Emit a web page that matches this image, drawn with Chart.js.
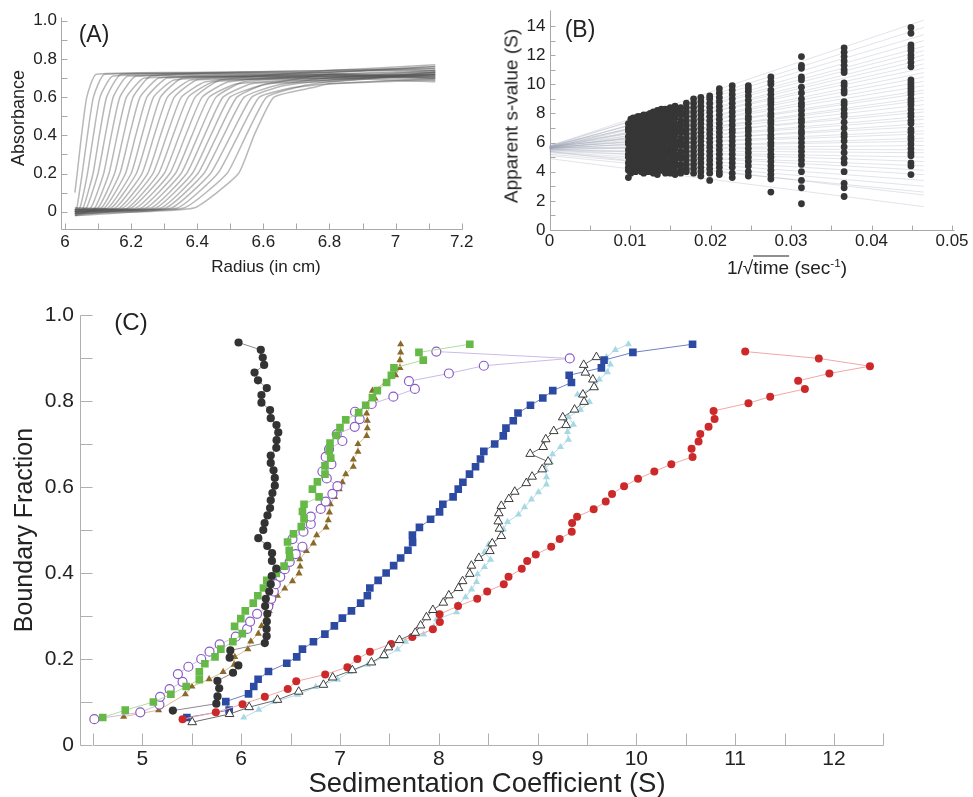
<!DOCTYPE html>
<html>
<head>
<meta charset="utf-8">
<script src="https://cdn.jsdelivr.net/npm/chart.js@4/dist/chart.umd.min.js"></script>
<style>
html, body { margin: 0; padding: 0; background: #fff; }
#page { position: relative; width: 973px; height: 797px; overflow: hidden; background: #fff;
        font-family: 'Liberation Sans', Arial, sans-serif; color: #222; }
#page canvas { position: absolute; }
.lbl { position: absolute; white-space: nowrap; line-height: 1; transform: translate(-50%, -50%); }
.rot { transform: translate(-50%, -50%) rotate(-90deg); }
sup { font-size: 0.62em; vertical-align: 0.55em; line-height: 0; }
</style>
</head>
<body>
<div id="page">
  <canvas id="chartA" width="480" height="260" style="left:0px;top:0px"></canvas>
  <canvas id="chartB" width="483" height="280" style="left:490px;top:0px"></canvas>
  <canvas id="chartC" width="973" height="507" style="left:0px;top:290px"></canvas>

  <div class="lbl" style="left:94px;top:34px;font-size:23px">(A)</div>
  <div class="lbl rot" style="left:18px;top:118px;font-size:18px">Absorbance</div>
  <div class="lbl" style="left:266px;top:266px;font-size:17px">Radius (in cm)</div>

  <div class="lbl" style="left:580px;top:29px;font-size:23px">(B)</div>
  <div class="lbl rot" style="left:511px;top:116px;font-size:19px">Apparent s-value (S)</div>
  <div class="lbl" style="left:787px;top:267px;font-size:19px">1/√<span style="text-decoration:overline">time</span> (sec<sup>-1</sup>)</div>

  <div class="lbl" style="left:131px;top:322px;font-size:24px">(C)</div>
  <div class="lbl rot" style="left:23px;top:530px;font-size:25px">Boundary Fraction</div>
  <div class="lbl" style="left:487px;top:783px;font-size:27.5px">Sedimentation Coefficient (S)</div>
</div>

<script>
// ---------------- Panel A: absorbance scans (radius in cm) ----------------
// For every scan: radius where the boundary leaves the baseline, the radius at
// absorbance 0.2 / 0.4 / 0.6, the shoulder (radius, absorbance), and the
// plateau absorbance at 6.8 cm and at the end of the cell (7.12 cm).
const scanStartAbs = [0.10,0.00,0.01,-0.01,0.00,0.01,-0.02,0.00,0.01,-0.01,0.00,0.02,-0.01,0.00,0.01,-0.02,0.00,0.01,-0.01,0.00,0.02,-0.01,0.01,0.00,-0.02,0.01,0.00,-0.01];
const scanFoot   = [6.030,6.036,6.045,6.055,6.065,6.078,6.090,6.100,6.110,6.120,6.130,6.140,6.152,6.165,6.176,6.190,6.200,6.215,6.230,6.245,6.260,6.275,6.290,6.305,6.322,6.340,6.360,6.390];
const scanAt20   = [6.037,6.052,6.068,6.085,6.100,6.117,6.133,6.150,6.166,6.183,6.200,6.216,6.233,6.250,6.266,6.283,6.300,6.317,6.334,6.351,6.368,6.385,6.402,6.420,6.440,6.462,6.490,6.525];
const scanAt40   = [6.050,6.068,6.086,6.104,6.122,6.140,6.158,6.177,6.195,6.214,6.233,6.252,6.270,6.289,6.308,6.327,6.346,6.365,6.384,6.403,6.422,6.441,6.460,6.480,6.502,6.524,6.548,6.572];
const scanAt60   = [6.066,6.086,6.106,6.126,6.146,6.166,6.186,6.206,6.227,6.248,6.268,6.289,6.310,6.331,6.352,6.373,6.394,6.415,6.436,6.457,6.478,6.499,6.520,6.542,6.565,6.588,6.610,6.632];
const scanShoulder    = [6.095,6.120,6.145,6.170,6.190,6.215,6.240,6.260,6.285,6.310,6.330,6.355,6.380,6.400,6.425,6.450,6.470,6.495,6.520,6.540,6.565,6.590,6.610,6.635,6.660,6.690,6.720,6.750];
const scanShoulderAbs = [0.72,0.72,0.71,0.72,0.71,0.71,0.70,0.71,0.70,0.70,0.69,0.70,0.69,0.69,0.68,0.68,0.69,0.68,0.67,0.68,0.67,0.66,0.67,0.66,0.66,0.65,0.66,0.65];
const scanAbs68  = [0.73,0.71,0.74,0.72,0.70,0.73,0.71,0.74,0.72,0.70,0.73,0.71,0.72,0.70,0.74,0.71,0.69,0.72,0.70,0.71,0.69,0.72,0.68,0.70,0.69,0.67,0.68,0.67];
const scanAbsEnd = [0.75,0.72,0.77,0.73,0.71,0.76,0.72,0.74,0.70,0.73,0.76,0.71,0.74,0.72,0.75,0.70,0.73,0.71,0.74,0.69,0.72,0.70,0.73,0.68,0.71,0.69,0.72,0.70];

const aXTicks  = [6,6.1,6.2,6.3,6.4,6.5,6.6,6.7,6.8,6.9,7,7.1,7.2];
const aXLabels = ['6','','6.2','','6.4','','6.6','','6.8','','7','','7.2'];
const aYTicks  = [0,0.1,0.2,0.3,0.4,0.5,0.6,0.7,0.8,0.9,1.0];
const aYLabels = ['0','','0.2','','0.4','','0.6','','0.8','','1.0'];

// ---------------- Panel B: apparent s-values vs 1/sqrt(time) ----------------
const colX = [0.0449,0.0366,0.0313,0.0275,0.0247,0.0227,0.0211,0.0199,0.0188,0.0179,0.0170,0.0163,0.0156,0.0150,0.0144,0.0139,0.0134,0.0129,0.0125,0.0121,0.0117,0.0114,0.0110,0.0107,0.0104,0.0101,0.0098];
const colS = [
  [13.9,13.5,12.7,12.5,12.3,12.0,11.8,11.5,11.2,10.3,10.1,9.9,9.7,9.5,9.3,9.0,8.8,8.6,8.3,8.0,7.8,7.5,7.3,6.9,6.7,6.4,6.2,5.9,5.6,5.3,5.1,4.6,4.4,3.8],
  [12.5,12.2,11.9,11.6,11.3,11.0,10.8,10.1,9.9,9.6,9.4,8.8,8.6,8.3,8.0,7.8,7.4,7.0,6.6,6.4,6.1,5.7,5.3,4.9,4.6,4.0,3.2,2.9,2.3],
  [11.9,11.3,11.1,10.5,10.3,9.8,9.4,9.0,8.7,8.5,8.2,7.9,7.6,7.4,7.1,6.8,6.6,6.3,6.0,5.7,5.4,5.1,4.8,4.5,4.0,3.4,2.9,1.8],
  [10.5,10.2,10.0,9.6,9.3,9.0,8.8,8.6,8.3,8.0,7.8,7.5,7.3,7.0,6.8,6.5,6.3,6.0,5.8,5.5,5.2,5.0,4.7,4.4,4.1,3.8,3.5,2.6],
  [9.9,9.7,9.5,9.2,8.9,8.6,8.3,8.1,7.8,7.6,7.3,7.0,6.8,6.5,6.2,5.9,5.6,5.3,5.0,4.7,4.4,4.0,3.7],
  [9.9,9.6,9.3,9.0,8.7,8.4,8.1,7.8,7.5,7.2,6.9,6.7,6.4,6.1,5.8,5.5,5.2,4.9,4.6,4.3,3.9,3.6],
  [9.7,9.4,9.1,8.8,8.5,8.2,7.9,7.6,7.3,7.0,6.7,6.4,6.1,5.8,5.5,5.2,4.9,4.6,4.3,4.0,3.8],
  [9.2,9.0,8.7,8.4,8.1,7.8,7.5,7.2,6.9,6.6,6.3,6.0,5.7,5.4,5.1,4.8,4.5,4.2,3.9,3.4],
  [9.1,8.8,8.5,8.2,7.9,7.6,7.3,7.0,6.7,6.4,6.1,5.8,5.5,5.2,4.9,4.6,4.3,4.0,3.7],
  [9.0,8.7,8.4,8.1,7.8,7.5,7.2,6.9,6.6,6.3,6.0,5.7,5.4,5.1,4.8,4.5,4.2,3.9],
  [8.7,8.4,8.1,7.8,7.5,7.2,6.9,6.6,6.3,6.0,5.7,5.4,5.1,4.8,4.5,4.2,4.0],
  [8.4,8.1,7.9,7.5,7.2,6.9,6.7,6.3,6.0,5.8,5.4,5.1,4.9,4.5,4.2,3.9],
  [8.5,8.2,7.9,7.7,7.3,7.0,6.7,6.5,6.1,5.8,5.6,5.2,4.9,4.6,4.4,4.0,3.8],
  [8.4,8.1,7.8,7.6,7.2,6.9,6.7,6.3,6.1,5.7,5.4,5.2,4.8,4.5,4.3,3.9],
  [8.3,8.0,7.8,7.4,7.1,6.9,6.5,6.2,6.0,5.6,5.3,5.1,4.7,4.4,4.1,3.9],
  [8.3,8.0,7.7,7.5,7.1,6.8,6.6,6.2,5.9,5.7,5.3,5.0,4.8,4.4,4.1],
  [8.2,7.9,7.7,7.3,7.0,6.8,6.4,6.1,5.9,5.5,5.2,5.0,4.6,4.3,4.0,3.8],
  [8.1,7.8,7.5,7.3,6.9,6.6,6.4,6.0,5.7,5.5,5.1,4.8,4.6,4.2,3.9],
  [8.0,7.7,7.5,7.1,6.8,6.6,6.2,5.9,5.7,5.3,5.0,4.8,4.4,4.1,4.0],
  [7.9,7.7,7.3,7.0,6.8,6.4,6.1,5.9,5.5,5.2,5.0,4.6,4.3,4.0],
  [7.9,7.6,7.4,7.0,6.7,6.5,6.1,5.8,5.6,5.2,4.9,4.7,4.3,3.9],
  [7.8,7.5,7.3,6.9,6.6,6.4,6.0,5.7,5.5,5.1,4.8,4.6,4.2,4.0],
  [7.8,7.5,7.2,7.0,6.6,6.3,6.1,5.7,5.4,5.2,4.8,4.5,4.2],
  [7.7,7.4,7.2,6.8,6.5,6.3,5.9,5.6,5.4,5.0,4.7,4.5,4.1,4.0],
  [7.7,7.4,7.1,6.9,6.5,6.2,6.0,5.6,5.3,5.1,4.7,4.4,4.3],
  [7.6,7.3,7.1,6.7,6.4,6.2,5.8,5.5,5.3,4.9,4.6,4.4,4.0,3.9],
  [7.3,7.0,6.8,6.4,6.1,5.9,5.5,5.2,5.0,4.6,4.3,4.1,3.6]
];
// extrapolation lines: s at 1/sqrt(t) = 0 and at the right end (0.0465)
const fitStart = [5.75,5.70,5.80,5.65,5.70,5.75,5.60,5.70,5.65,5.80,5.60,5.70,5.65,5.75,5.60,5.70,5.55,5.65,5.70,5.60,5.75,5.60,5.65,5.55,5.70,5.60,5.65,5.50,5.60,5.55,5.65,5.50,5.45,5.55,5.40,5.50,5.35,5.30,5.20,5.10,5.40,4.90];
const fitEnd   = [14.4,13.9,13.4,13.0,12.6,12.3,12.0,11.7,11.4,11.1,10.8,10.5,10.2,9.9,9.6,9.4,9.1,8.9,8.6,8.3,8.1,7.8,7.6,7.3,7.1,6.8,6.6,6.3,6.1,5.8,5.5,5.3,5.0,4.7,4.4,4.1,3.8,3.4,3.0,2.6,2.4,1.6];
const fitEndX = 0.0465;

const bXTicks  = [0,0.005,0.01,0.015,0.02,0.025,0.03,0.035,0.04,0.045,0.05];
const bXLabels = ['0','','0.01','','0.02','','0.03','','0.04','','0.05'];
const bYTicks  = [0,1,2,3,4,5,6,7,8,9,10,11,12,13,14];
const bYLabels = ['0','','2','','4','','6','','8','','10','','12','','14'];

// ---------------- Panel C: boundary fraction vs sedimentation coefficient ----------------
const sBlackCircle = [5.308,5.748,5.760,5.777,5.759,5.917,5.971,5.883,5.890,6.239,6.257,6.257,6.259,6.264,6.242,6.249,6.284,6.299,6.309,6.355,6.311,6.312,6.264,6.173,6.223,6.237,6.266,6.292,6.299,6.316,6.340,6.340,6.327,6.299,6.299,6.355,6.358,6.375,6.357,6.299,6.292,6.205,6.205,6.259,6.170,6.135,6.232,6.218,6.198,5.973];
const fBlackCircle = [0.080,0.096,0.113,0.132,0.149,0.168,0.185,0.203,0.220,0.237,0.253,0.270,0.287,0.305,0.323,0.340,0.357,0.374,0.393,0.410,0.428,0.446,0.463,0.481,0.500,0.516,0.534,0.551,0.569,0.586,0.603,0.621,0.639,0.656,0.673,0.691,0.709,0.727,0.744,0.760,0.779,0.796,0.814,0.830,0.848,0.866,0.884,0.901,0.919,0.936];

const sGreenSquare = [4.598,4.826,5.111,5.288,5.443,5.576,5.576,5.632,5.735,5.794,5.915,6.011,5.933,5.996,6.041,6.122,6.168,6.225,6.259,6.355,6.434,6.491,6.486,6.469,6.529,6.608,6.636,6.620,6.636,6.788,6.721,6.771,6.848,6.848,6.906,6.891,6.899,6.962,7.000,7.058,7.189,7.260,7.328,7.378,7.472,7.520,7.546,7.843,7.799,8.314];
const fGreenSquare = [0.064,0.081,0.100,0.118,0.136,0.152,0.170,0.189,0.205,0.223,0.240,0.259,0.276,0.294,0.312,0.330,0.347,0.365,0.383,0.399,0.416,0.436,0.453,0.472,0.491,0.508,0.526,0.543,0.560,0.577,0.595,0.612,0.630,0.649,0.667,0.684,0.702,0.720,0.738,0.756,0.773,0.790,0.808,0.824,0.843,0.860,0.877,0.895,0.913,0.932];

const sBrownTriangle = [4.810,5.164,5.435,5.501,5.675,5.817,5.928,5.935,6.067,6.097,6.173,6.206,6.249,6.284,6.299,6.367,6.441,6.519,6.585,6.596,6.593,6.660,6.731,6.764,6.860,6.881,6.893,6.903,6.946,6.992,7.024,7.058,7.135,7.135,7.182,7.182,7.270,7.277,7.277,7.270,7.310,7.354,7.328,7.462,7.563,7.607,7.607,7.614,7.614];
const fBrownTriangle = [0.066,0.081,0.118,0.136,0.153,0.170,0.187,0.205,0.223,0.241,0.259,0.277,0.294,0.312,0.330,0.347,0.364,0.381,0.399,0.415,0.432,0.451,0.469,0.488,0.506,0.523,0.541,0.560,0.577,0.595,0.611,0.630,0.647,0.664,0.682,0.700,0.719,0.737,0.754,0.771,0.790,0.806,0.824,0.843,0.860,0.877,0.895,0.913,0.932];

const sPurpleRing = [4.513,4.978,5.172,5.179,5.275,5.406,5.359,5.465,5.595,5.679,5.782,5.945,6.060,6.090,6.161,6.274,6.304,6.330,6.350,6.395,6.441,6.491,6.552,6.620,6.519,6.630,6.704,6.704,6.805,6.855,6.923,6.974,6.866,6.822,6.913,6.855,6.889,7.024,6.967,7.149,7.199,7.152,7.321,7.540,7.758,7.698,8.102,8.456,9.326,7.975];
const fPurpleRing = [0.060,0.076,0.094,0.112,0.130,0.147,0.165,0.182,0.200,0.217,0.234,0.252,0.270,0.287,0.305,0.322,0.340,0.357,0.374,0.391,0.409,0.426,0.444,0.461,0.479,0.496,0.514,0.531,0.549,0.566,0.584,0.602,0.620,0.636,0.653,0.670,0.688,0.707,0.723,0.740,0.758,0.775,0.793,0.810,0.828,0.846,0.864,0.882,0.899,0.915];

const sBlueSquare = [5.450,5.878,5.844,6.074,6.127,6.171,6.276,6.461,6.562,6.620,6.731,6.847,6.943,7.024,7.116,7.209,7.277,7.302,7.386,7.467,7.543,7.614,7.688,7.735,7.733,7.804,7.917,8.008,8.041,8.145,8.197,8.244,8.311,8.372,8.422,8.456,8.566,8.653,8.680,8.754,8.802,8.928,9.053,9.154,9.343,9.320,9.646,9.673,9.965,10.569];
const fBlueSquare = [0.064,0.081,0.101,0.119,0.136,0.153,0.171,0.190,0.205,0.223,0.240,0.258,0.277,0.295,0.312,0.330,0.347,0.365,0.383,0.400,0.417,0.435,0.453,0.471,0.488,0.506,0.525,0.542,0.560,0.577,0.595,0.611,0.630,0.647,0.665,0.683,0.700,0.719,0.737,0.754,0.772,0.790,0.807,0.824,0.843,0.860,0.877,0.895,0.913,0.932];

const sOpenTriangle = [5.504,5.882,6.080,6.367,6.582,6.832,6.926,7.125,7.318,7.445,7.490,7.602,7.762,7.816,7.875,7.940,8.046,8.102,8.200,8.241,8.313,8.330,8.405,8.517,8.541,8.633,8.615,8.602,8.608,8.633,8.709,8.769,8.886,8.945,9.047,9.107,8.925,9.057,9.083,9.164,9.289,9.255,9.375,9.471,9.459,9.572,9.560,9.484,9.467,9.596];
const fOpenTriangle = [0.053,0.072,0.088,0.105,0.124,0.140,0.157,0.174,0.192,0.209,0.227,0.244,0.261,0.278,0.297,0.314,0.331,0.348,0.365,0.381,0.398,0.417,0.435,0.451,0.469,0.486,0.503,0.520,0.539,0.556,0.572,0.589,0.609,0.624,0.641,0.659,0.677,0.693,0.711,0.730,0.744,0.762,0.780,0.798,0.815,0.832,0.850,0.866,0.884,0.902];

const sCyanTriangle = [6.026,6.178,6.330,6.572,6.754,6.977,7.098,7.280,7.451,7.583,7.664,7.846,7.947,7.978,8.180,8.200,8.271,8.332,8.382,8.392,8.463,8.524,8.463,8.504,8.635,8.655,8.696,8.807,8.868,8.938,9.009,9.090,9.090,9.080,9.131,9.151,9.232,9.313,9.303,9.363,9.313,9.434,9.525,9.404,9.585,9.626,9.707,9.737,9.697,9.788,9.920];
const fCyanTriangle = [0.064,0.082,0.100,0.117,0.135,0.152,0.170,0.187,0.205,0.222,0.240,0.257,0.274,0.292,0.309,0.327,0.344,0.362,0.379,0.397,0.414,0.431,0.449,0.466,0.484,0.501,0.519,0.536,0.553,0.571,0.588,0.606,0.623,0.641,0.658,0.676,0.693,0.710,0.728,0.745,0.763,0.780,0.798,0.815,0.833,0.850,0.867,0.885,0.902,0.919,0.932];

const sRedCircle = [5.406,5.743,6.013,6.239,6.471,6.557,6.850,7.075,7.176,7.303,7.518,7.732,7.940,8.011,8.008,8.195,8.389,8.490,8.658,8.706,8.840,8.895,8.982,9.138,9.224,9.346,9.350,9.400,9.568,9.690,9.754,9.876,10.017,10.182,10.354,10.569,10.559,10.630,10.647,10.731,10.792,10.782,11.135,11.355,11.706,11.638,11.954,12.365,11.847,11.102];
const fRedCircle = [0.060,0.076,0.095,0.112,0.130,0.148,0.164,0.181,0.200,0.217,0.235,0.251,0.269,0.286,0.304,0.323,0.340,0.357,0.374,0.391,0.410,0.428,0.443,0.461,0.479,0.496,0.516,0.531,0.548,0.566,0.584,0.602,0.619,0.636,0.653,0.670,0.689,0.706,0.723,0.740,0.758,0.777,0.795,0.810,0.828,0.847,0.864,0.881,0.899,0.915];

const cXTicks  = [4.5,5,5.5,6,6.5,7,7.5,8,8.5,9,9.5,10,10.5,11,11.5,12,12.5];
const cXLabels = ['','5','','6','','7','','8','','9','','10','','11','','12',''];
const cYTicks  = [0,0.1,0.2,0.3,0.4,0.5,0.6,0.7,0.8,0.9,1.0];
const cYLabels = ['0','','0.2','','0.4','','0.6','','0.8','','1.0'];

// ---------------- shared helpers ----------------
Chart.defaults.font.family = "'Liberation Sans', Arial, sans-serif";
Chart.defaults.color = '#222';

const zip = (xs, ys) => xs.map((x, i) => ({ x, y: ys[i] }));

// axis lines with inward tick marks, placed through the chart's own scales
const axisFrame = {
  id: 'axisFrame',
  beforeDatasetsDraw(chart, args, o) {
    const { ctx, scales: { x, y } } = chart;
    const px = v => Math.round(x.getPixelForValue(v)) + 0.5;
    const py = v => Math.round(y.getPixelForValue(v)) + 0.5;
    const yb = py(o.xLineAt), xl = px(o.yLineAt);
    ctx.save();
    ctx.strokeStyle = o.color;
    ctx.lineWidth = 1;
    ctx.beginPath();
    ctx.moveTo(px(o.xFrom), yb); ctx.lineTo(px(o.xTo), yb);
    ctx.moveTo(xl, py(o.yFrom)); ctx.lineTo(xl, py(o.yTo));
    x.ticks.forEach(t => { const p = px(t.value); ctx.moveTo(p, yb); ctx.lineTo(p, yb - o.tick); });
    y.ticks.forEach(t => { const p = py(t.value); ctx.moveTo(xl, p); ctx.lineTo(xl + o.tick, p); });
    ctx.stroke();
    ctx.restore();
  }
};

function makeAxis(min, max, tickVals, labels, fontSize, pad, size, horizontal) {
  return {
    type: 'linear', min, max,
    grid: { display: false, drawTicks: false },
    border: { display: false },
    afterBuildTicks: s => { s.ticks = tickVals.map(v => ({ value: v })); },
    afterFit: s => {
      if (horizontal) { s.height = size; s.paddingLeft = 0; s.paddingRight = 0; }
      else { s.width = size; s.paddingTop = 0; s.paddingBottom = 0; }
    },
    ticks: {
      autoSkip: false, maxRotation: 0, minRotation: 0, padding: pad,
      color: '#222', font: { size: fontSize },
      callback: (v, i) => labels[i] ?? ''
    }
  };
}

const baseOptions = (padding, scales, frame) => ({
  responsive: false, animation: false, events: [],
  layout: { padding },
  plugins: { legend: { display: false }, tooltip: { enabled: false }, axisFrame: frame },
  scales
});

// ---------------- chart A ----------------
const scanSets = scanAt40.map((_, i) => {
  const pts = [{ x: 6.03, y: scanStartAbs[i] }];
  if (scanFoot[i] > 6.031) pts.push({ x: scanFoot[i], y: 0.02 });
  pts.push({ x: scanAt20[i], y: 0.2 }, { x: scanAt40[i], y: 0.4 }, { x: scanAt60[i], y: 0.6 });
  pts.push({ x: scanShoulder[i], y: scanShoulderAbs[i] });
  pts.push({ x: 6.8, y: scanAbs68[i] }, { x: 7.12, y: scanAbsEnd[i] });
  return { data: pts, showLine: true, pointRadius: 0, borderWidth: 1.5,
           borderColor: 'rgba(85,85,85,0.42)', tension: 0.15 };
});

new Chart(document.getElementById('chartA'), {
  type: 'scatter',
  data: { datasets: scanSets },
  options: baseOptions(
    { left: 0, right: 18.3, top: 16.9, bottom: 0 },
    { x: makeAxis(5.988, 7.2, aXTicks, aXLabels, 17, 3, 30.7, true),
      y: makeAxis(-0.092, 1.02, aYTicks, aYLabels, 17, 4, 61, false) },
    { color: '#a8a8a8', tick: 6, xLineAt: -0.092, xFrom: 5.988, xTo: 7.2, yLineAt: 5.988, yFrom: -0.092, yTo: 1.02 }),
  plugins: [axisFrame]
});

// ---------------- chart B ----------------
const bPoints = [];
colX.forEach((x, i) => colS[i].forEach(s => bPoints.push({ x, y: s })));
const fitSets = fitStart.map((s0, i) => ({
  data: [{ x: 0, y: s0 }, { x: fitEndX, y: fitEnd[i] }],
  showLine: true, pointRadius: 0, borderWidth: 1, borderColor: 'rgba(150,158,175,0.28)'
}));

new Chart(document.getElementById('chartB'), {
  type: 'scatter',
  data: { datasets: [
    { data: bPoints, pointRadius: 3.4, pointBackgroundColor: '#363636', pointBorderColor: '#363636', pointBorderWidth: 0 },
    ...fitSets
  ] },
  options: baseOptions(
    { left: 0, right: 21, top: 11.4, bottom: 0 },
    { x: makeAxis(0, 0.05, bXTicks, bXLabels, 17, 1, 50, true),
      y: makeAxis(0, 15, bYTicks, bYLabels, 17, 4, 59.5, false) },
    { color: '#a8a8a8', tick: 5, xLineAt: 0, xFrom: 0, xTo: 0.0502, yLineAt: 0, yFrom: 0, yTo: 15.1 }),
  plugins: [axisFrame]
});

// ---------------- chart C ----------------
const cSeries = [
  { s: sBlackCircle,   f: fBlackCircle,   shape: 'circle',   r: 4.1, fill: '#333333', edge: '#333333', line: '#8c8c8c', bw: 0 },
  { s: sOpenTriangle,  f: fOpenTriangle,  shape: 'triangle', r: 5.0, fill: '#ffffff', edge: '#3a3a3a', line: '#6a6a6a', bw: 1 },
  { s: sRedCircle,     f: fRedCircle,     shape: 'circle',   r: 4.0, fill: '#cc2a2a', edge: '#cc2a2a', line: '#f0a8a8', bw: 0 },
  { s: sBlueSquare,    f: fBlueSquare,    shape: 'rect',     r: 5.4, fill: '#2d4aa3', edge: '#2d4aa3', line: '#7080c4', bw: 0 },
  { s: sGreenSquare,   f: fGreenSquare,   shape: 'rect',     r: 5.4, fill: '#66b947', edge: '#66b947', line: '#b3dc9c', bw: 0 },
  { s: sPurpleRing,    f: fPurpleRing,    shape: 'circle',   r: 4.5, fill: '#ffffff', edge: '#8a5cc6', line: '#cbbbe6', bw: 1.2 },
  { s: sBrownTriangle, f: fBrownTriangle, shape: 'triangle', r: 4.1, fill: '#8a6a2a', edge: '#8a6a2a', line: '#d9bf90', bw: 0 },
  { s: sCyanTriangle,  f: fCyanTriangle,  shape: 'triangle', r: 4.1, fill: '#a6d9e3', edge: '#a6d9e3', line: '#b7dce6', bw: 0 }
];

new Chart(document.getElementById('chartC'), {
  type: 'scatter',
  data: { datasets: cSeries.map(d => ({
    data: zip(d.s, d.f), showLine: true, borderColor: d.line, borderWidth: 1,
    pointStyle: d.shape, pointRadius: d.r, pointBackgroundColor: d.fill,
    pointBorderColor: d.edge, pointBorderWidth: d.bw
  })) },
  options: baseOptions(
    { left: 0, right: 89.7, top: 25, bottom: 0 },
    { x: makeAxis(4.368, 12.5, cXTicks, cXLabels, 21, 2, 52, true),
      y: makeAxis(0, 1, cYTicks, cYLabels, 21, 6, 80, false) },
    { color: '#b0b0b0', tick: 12, xLineAt: 0, xFrom: 4.5, xTo: 12.5, yLineAt: 4.368, yFrom: 0, yTo: 1 }),
  plugins: [axisFrame]
});
</script>
</body>
</html>
